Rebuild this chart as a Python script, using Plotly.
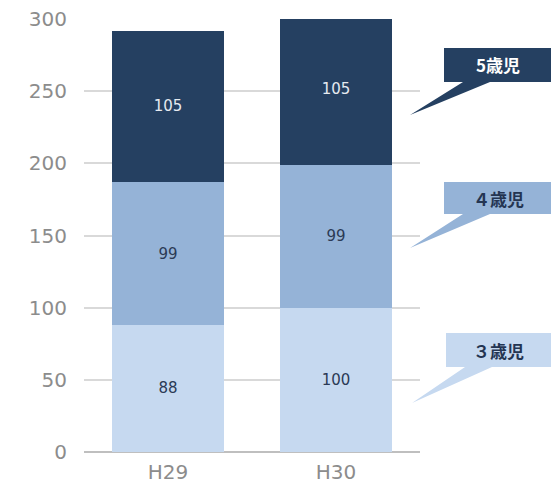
import plotly.graph_objects as go

categories = ["H29", "H30"]
age3 = [88, 100]
age4 = [99, 99]
age5 = [105, 105]
series_names = ["３歳児", "４歳児", "5歳児"]
colors = ["#C6D9F0", "#95B3D7", "#254061"]
text_colors = ["#2B3A55", "#2B3A55", "#E6EAF0"]

W, H = 551, 487
L, R, T, B = 84, 131, 19, 35
pw, ph = W - L - R, H - T - B

def px(x):
    return (x - L) / pw

def py(y):
    return (H - B - y) / ph

fig = go.Figure()
for name, vals, c, tc in zip(series_names, [age3, age4, age5], colors, text_colors):
    fig.add_trace(go.Bar(
        x=categories, y=vals, name=name, marker=dict(color=c, line=dict(width=0)),
        text=[str(v) for v in vals], textposition="inside", insidetextanchor="middle",
        textangle=0, constraintext="none",
        textfont=dict(size=15, color=tc, family="DejaVu Sans"),
    ))

callouts = [
    (444, 48, 551, 82, 463, 490, 410, 115, colors[2], "#FFFFFF", series_names[2]),
    (444, 182, 551, 214, 463, 490, 410, 248, colors[1], "#243552", series_names[1]),
    (446, 333, 551, 367, 465, 492, 412, 403, colors[0], "#243552", series_names[0]),
]
shapes = []
annotations = []
for x0, y0, x1, y1, xa, xb, tx, ty, fill, tcol, lab in callouts:
    path = (f"M {px(x0)},{py(y0)} L {px(x1)},{py(y0)} L {px(x1)},{py(y1)} "
            f"L {px(xb)},{py(y1)} L {px(tx)},{py(ty)} L {px(xa)},{py(y1)} "
            f"L {px(x0)},{py(y1)} Z")
    shapes.append(dict(type="path", xref="paper", yref="paper", path=path,
                       fillcolor=fill, line=dict(width=0), layer="above"))
    annotations.append(dict(xref="paper", yref="paper", x=px(498), y=py((y0 + y1) / 2),
                            text=f"<b>{lab}</b>", showarrow=False,
                            font=dict(size=17, color=tcol, family="Noto Sans CJK JP"),
                            xanchor="center", yanchor="middle"))

fig.update_layout(
    width=W, height=H, barmode="stack", bargap=0.33,
    margin=dict(l=L, r=R, t=T, b=B, autoexpand=False),
    paper_bgcolor="white", plot_bgcolor="white",
    showlegend=False, shapes=shapes, annotations=annotations,
    xaxis=dict(showgrid=False, showline=False, ticks="", automargin=False,
               ticklabelstandoff=6,
               tickfont=dict(size=20, color="#8C8C8C", family="DejaVu Sans")),
    yaxis=dict(range=[0, 300], dtick=50, showgrid=True, gridcolor="#D9D9D9", gridwidth=1.5,
               zeroline=True, zerolinecolor="#BFBFBF", zerolinewidth=1.5, automargin=False,
               showline=False, ticks="", ticklabelstandoff=16,
               tickfont=dict(size=20, color="#8C8C8C", family="DejaVu Sans")),
)

fig.write_html("out.html")
